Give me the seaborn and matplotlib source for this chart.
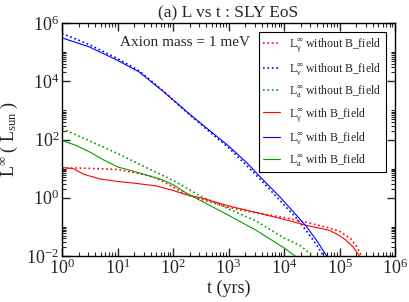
import numpy as np
import pandas as pd
import matplotlib
matplotlib.use("Agg")
import matplotlib.pyplot as plt
import matplotlib.ticker as mticker
import seaborn as sns

# values, as log10(t / yrs) and log10(L / L_sun)
gam_noB_logt = [0, 0.3, 0.6, 1.0, 1.28, 1.5, 1.69, 2.0, 2.25, 2.5, 3.0, 3.5, 4.0, 4.4, 4.82, 5.0, 5.2, 5.3, 5.4]
gam_noB_logL = [1.02, 1.02, 1.0, 0.97, 0.87, 0.78, 0.68, 0.37, 0.1, -0.05, -0.33, -0.52, -0.68, -0.84, -1.04, -1.15, -1.4, -1.65, -2.0]

nu_noB_logt = [0, 0.49, 1.0, 1.39, 1.81, 2.12, 2.6, 3.0, 3.33, 3.6, 3.93, 4.2, 4.41, 4.6, 4.71]
nu_noB_logL = [5.64, 5.26, 4.78, 4.36, 3.69, 3.15, 2.36, 1.72, 1.1, 0.58, -0.1, -0.65, -1.15, -1.65, -2.0]

ax_noB_logt = [0, 0.5, 1.0, 1.5, 2.0, 2.5, 3.0, 3.5, 4.0, 4.3, 4.52]
ax_noB_logL = [2.37, 1.95, 1.52, 1.05, 0.6, 0.05, -0.38, -0.8, -1.38, -1.65, -2.0]

gam_B_logt = [0, 0.2, 0.4, 0.7, 1.0, 1.3, 1.69, 2.0, 2.25, 2.5, 3.0, 3.33, 4.0, 4.41, 4.82, 5.0, 5.12, 5.25, 5.36]
gam_B_logL = [1.04, 1.0, 0.8, 0.64, 0.56, 0.5, 0.41, 0.25, 0.1, 0.0, -0.28, -0.43, -0.74, -0.95, -1.12, -1.3, -1.46, -1.7, -2.0]

nu_B_logt = [0, 0.49, 1.0, 1.39, 1.81, 2.12, 2.28, 2.6, 3.0, 3.33, 3.6, 3.93, 4.2, 4.41, 4.6, 4.77]
nu_B_logL = [5.49, 5.18, 4.72, 4.32, 3.67, 3.17, 2.9, 2.4, 1.78, 1.2, 0.66, 0.02, -0.55, -1.0, -1.5, -2.0]

ax_B_logt = [0, 0.25, 0.5, 0.75, 1.0, 1.4, 1.8, 2.0, 2.25, 2.5, 3.0, 3.5, 4.0, 4.2]
ax_B_logL = [1.97, 1.8, 1.57, 1.3, 1.06, 0.85, 0.62, 0.45, 0.15, -0.1, -0.6, -1.12, -1.72, -2.0]

series = [
    (r"$\mathregular{L^{\infty}_{\gamma}}$ without B_field", gam_noB_logt, gam_noB_logL, "red", ":"),
    (r"$\mathregular{L^{\infty}_{\nu}}$ without B_field", nu_noB_logt, nu_noB_logL, "blue", ":"),
    (r"$\mathregular{L^{\infty}_{a}}$ without B_field", ax_noB_logt, ax_noB_logL, "#00a000", ":"),
    (r"$\mathregular{L^{\infty}_{\gamma}}$ with B_field", gam_B_logt, gam_B_logL, "red", "-"),
    (r"$\mathregular{L^{\infty}_{\nu}}$ with B_field", nu_B_logt, nu_B_logL, "blue", "-"),
    (r"$\mathregular{L^{\infty}_{a}}$ with B_field", ax_B_logt, ax_B_logL, "#00a000", "-"),
]

sns.set_style("ticks")
plt.rcParams["font.family"] = ["Liberation Serif", "DejaVu Serif"]
plt.rcParams["mathtext.fontset"] = "stix"

fig = plt.figure(figsize=(4.09, 3.02), dpi=100)
ax = fig.add_axes([62 / 409, 1 - 256 / 302, 333 / 409, 233 / 302])

for label, lt, lL, color, ls in series:
    df = pd.DataFrame({"t": np.power(10.0, lt), "L": np.power(10.0, lL)})
    lw = 1.2 if ls == ":" else 0.8
    sns.lineplot(data=df, x="t", y="L", ax=ax, color=color, linestyle=ls,
                 linewidth=lw, label=label, sort=False)

ax.set_xscale("log")
ax.set_yscale("log")
ax.set_xlim(1, 1e6)
ax.set_ylim(1e-2, 1e6)

ax.xaxis.set_major_locator(mticker.FixedLocator([10.0 ** e for e in range(0, 7)]))
ax.xaxis.set_minor_locator(mticker.LogLocator(base=10, subs=np.arange(2, 10), numticks=20))
ax.yaxis.set_major_locator(mticker.FixedLocator([1e-2, 1e0, 1e2, 1e4, 1e6]))
# grace-style minor ticks: only in the lower decade of each major step
ax.yaxis.set_minor_locator(mticker.FixedLocator(
    [k * 10.0 ** e for e in (-2, 0, 2, 4) for k in range(2, 11)]))
ax.xaxis.set_minor_formatter(mticker.NullFormatter())
ax.yaxis.set_minor_formatter(mticker.NullFormatter())

ax.tick_params(which="both", direction="in", top=True, right=True, labelsize=13, pad=2)
ax.tick_params(which="major", length=6, width=1)
ax.tick_params(which="minor", length=3, width=0.8)
for s in ax.spines.values():
    s.set_linewidth(1.0)
    s.set_color("black")

ax.set_title("(a) L vs t : SLY EoS", fontsize=12.5, pad=4)
ax.set_xlabel("t (yrs)", fontsize=13, labelpad=1)
ax.set_ylabel(r"$\mathregular{L^{\infty}\ (\ L_{sun}\ )}$", fontsize=13)
ax.yaxis.set_label_coords(-0.125, 0.5)
ax.text(0.175, 0.9, "Axion mass = 1 meV", transform=ax.transAxes, fontsize=11)

leg = ax.legend(loc="upper right", fontsize=8.5, frameon=True, fancybox=False,
                edgecolor="black", framealpha=1, handlelength=1.4,
                labelspacing=0.54, borderpad=0.35, handletextpad=0.8,
                borderaxespad=0.8)
leg.get_frame().set_linewidth(0.8)

fig.savefig("out.png", dpi=100)
